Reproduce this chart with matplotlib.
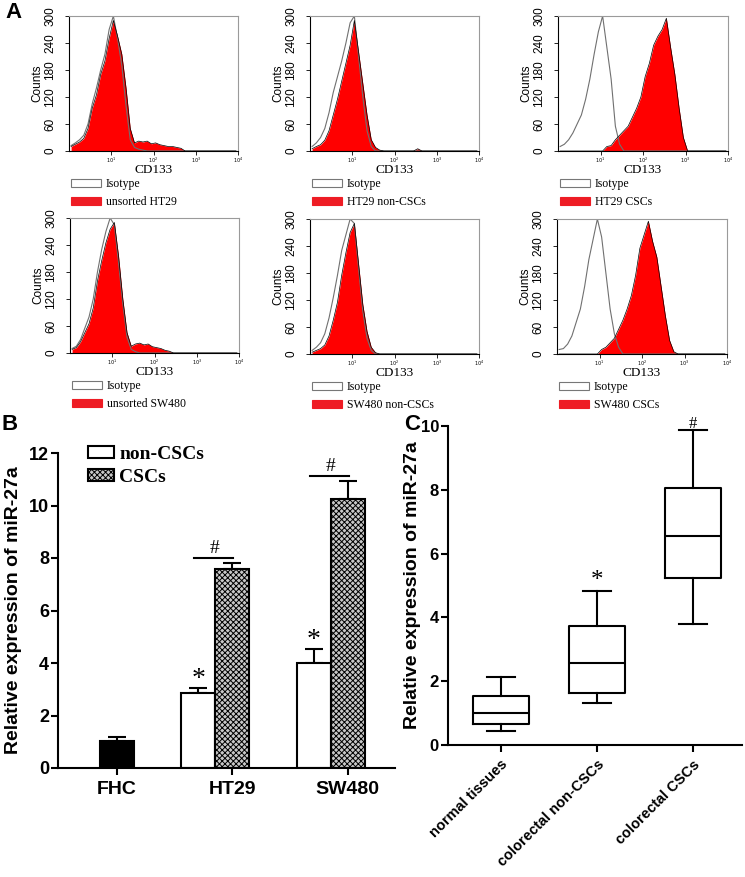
import numpy as np
import matplotlib
matplotlib.use('Agg')
import matplotlib.pyplot as plt
from matplotlib.patches import Rectangle, Patch

plt.rcParams['font.family'] = ['Liberation Sans', 'DejaVu Sans']

W, H = 745, 877

# ---- panel A: flow histograms, counts per 0.1-decade bin of CD133 (10^0 .. 10^4) ----
iso_1 = [12, 18, 25, 35, 60, 105, 140, 180, 215, 270, 300, 250, 190, 100, 25, 8, 4, 2]
red_1 = [10, 15, 20, 28, 50, 95, 125, 170, 200, 250, 290, 255, 215, 140, 50, 18, 22, 20,
         22, 16, 18, 14, 12, 10, 10, 8, 6]
iso_2 = [10, 18, 30, 50, 85, 130, 165, 200, 240, 285, 300, 210, 120, 45, 10]
red_2 = [5, 10, 14, 24, 45, 80, 115, 155, 195, 235, 290, 220, 150, 80, 25, 8, 2,
         0, 0, 0, 0, 0, 0, 0, 0, 5]
iso_3 = [10, 15, 25, 40, 60, 80, 115, 160, 215, 265, 300, 230, 160, 55, 15]
red_3 = [0, 0, 0, 0, 0, 0, 0, 0, 0, 0, 0, 10, 12, 25, 35, 45, 55, 75, 95, 120, 165, 195,
         235, 255, 270, 295, 230, 170, 95, 30]
iso_4 = [10, 15, 30, 55, 80, 120, 180, 230, 270, 300, 285, 200, 110, 35, 8, 3]
red_4 = [8, 12, 25, 45, 65, 100, 160, 205, 245, 275, 290, 215, 120, 45, 15, 20, 22, 18,
         20, 14, 12, 10, 6, 4]
iso_5 = [8, 15, 25, 45, 80, 125, 175, 230, 265, 300, 290, 190, 95, 35, 8]
red_5 = [4, 8, 12, 20, 40, 75, 115, 175, 225, 270, 290, 200, 110, 50, 15, 3]
iso_6 = [10, 12, 22, 40, 70, 100, 150, 210, 255, 300, 260, 180, 100, 45, 15]
red_6 = [0, 0, 0, 0, 0, 0, 0, 0, 0, 0, 10, 15, 25, 35, 55, 75, 100, 130, 175, 235, 265,
         295, 250, 215, 150, 85, 30, 5]

hist_names = ['unsorted HT29', 'HT29 non-CSCs', 'HT29 CSCs',
              'unsorted SW480', 'SW480 non-CSCs', 'SW480 CSCs']
iso_all = [iso_1, iso_2, iso_3, iso_4, iso_5, iso_6]
red_all = [red_1, red_2, red_3, red_4, red_5, red_6]
count_ticks = [0, 60, 120, 180, 240, 300]

# ---- panel B: bars ----
b_cats = ['FHC', 'HT29', 'SW480']
fhc_mean = 1.03
fhc_err = 0.15
non_mean = [2.87, 4.01]
non_err = [0.19, 0.54]
csc_mean = [7.58, 10.25]
csc_err = [0.23, 0.68]
b_ticks = [0, 2, 4, 6, 8, 10, 12]

# ---- panel C: box plots ----
c_cats = ['normal tissues', 'colorectal non-CSCs', 'colorectal CSCs']
c_low = [0.45, 1.31, 3.79]
c_q1 = [0.66, 1.62, 5.25]
c_med = [1.00, 2.56, 6.56]
c_q3 = [1.54, 3.74, 8.06]
c_high = [2.14, 4.84, 9.87]
c_ticks = [0, 2, 4, 6, 8, 10]


fig = plt.figure(figsize=(W / 100, H / 100), dpi=100)


def fax(l, t, r, b):
    return fig.add_axes([l / W, 1 - b / H, (r - l) / W, (b - t) / H])


def ftext(x, y, s, **kw):
    fig.text(x / W, 1 - y / H, s, **kw)


def fbox(x, y, w, h, fc, ec):
    fig.patches.append(Rectangle((x / W, 1 - (y + h / 2) / H), w / W, h / H,
                                 transform=fig.transFigure, facecolor=fc,
                                 edgecolor=ec, linewidth=0.8))


centers = 10 ** (0.05 + np.arange(40) * 0.1)
hist_boxes = [(69, 16, 238, 151), (310, 16, 479, 151), (558, 16, 728, 151),
              (70, 218, 239, 353), (310, 219, 479, 354), (557, 219, 727, 354)]
serif = ['Liberation Serif', 'DejaVu Serif']

for i, (l, t, r, b) in enumerate(hist_boxes):
    ax = fax(l, t, r, b)
    iso = np.zeros(40)
    iso[:len(iso_all[i])] = iso_all[i]
    red = np.zeros(40)
    red[:len(red_all[i])] = red_all[i]
    ax.fill_between(centers, 0, red, color='#ff0000', lw=0, zorder=1)
    ax.plot(centers, iso, color='#707070', lw=0.8, zorder=2)
    ax.plot(centers, red, color='black', lw=0.5, zorder=3)
    ax.set_xscale('log')
    ax.set_xlim(1, 1e4)
    ax.set_ylim(0, 300)
    ax.set_yticks(count_ticks)
    ax.set_yticklabels([str(v) for v in count_ticks], rotation=90, va='center', fontsize=8.5)
    ax.set_xticks([10, 100, 1000, 10000])
    ax.set_xticklabels(['$10^1$', '$10^2$', '$10^3$', '$10^4$'], fontsize=3.5, family=serif)
    ax.tick_params(axis='x', which='major', length=3, width=0.6, pad=0.5)
    ax.tick_params(axis='x', which='minor', length=2, width=0.5)
    ax.tick_params(axis='y', length=3, width=0.6, pad=6)
    ax.set_ylabel('Counts', fontsize=8.5, labelpad=1)
    for s in ['top', 'right']:
        ax.spines[s].set_color('#9a9a9a')
        ax.spines[s].set_linewidth(0.8)
    for s in ['left', 'bottom']:
        ax.spines[s].set_linewidth(0.8)
    xc = (l + r) / 2
    ftext(xc, b + 19, 'CD133', ha='center', va='center', fontsize=9.5, family=serif)
    ftext(l + 37, b + 33, 'Isotype', ha='left', va='center', fontsize=8.5, family=serif)
    ftext(l + 37, b + 51, hist_names[i], ha='left', va='center', fontsize=8.5, family=serif)
    fbox(l + 2, b + 32, 30, 8, 'white', '#777777')
    fbox(l + 2, b + 50, 30, 8, '#ee1c24', '#ee1c24')

# ---- panel B ----
axb = fax(58, 453, 395, 768)
w = 0.294
xb = np.array([1, 2])
plt.rcParams['hatch.linewidth'] = 0.7
axb.bar([0], [fhc_mean], width=w, color='black', edgecolor='black', lw=1.5, zorder=2)
axb.bar(xb - w, non_mean, width=w, color='white', edgecolor='black', lw=1.5, zorder=2)
axb.bar(xb, csc_mean, width=w, color='#c8c8c8', edgecolor='black', lw=1.5,
        hatch='xxxxxx', zorder=2)
axb.errorbar([0], [fhc_mean], yerr=[[0], [fhc_err]], fmt='none', ecolor='black',
             elinewidth=1.5, capsize=6.5, capthick=1.5, zorder=1)
axb.errorbar(xb - w, non_mean, yerr=[[0, 0], non_err], fmt='none', ecolor='black',
             elinewidth=1.5, capsize=6.5, capthick=1.5, zorder=1)
axb.errorbar(xb, csc_mean, yerr=[[0, 0], csc_err], fmt='none', ecolor='black',
             elinewidth=1.5, capsize=6.5, capthick=1.5, zorder=1)
for k in range(2):
    axb.text(xb[k] - w, non_mean[k] + non_err[k] + 0.3, '*', ha='center', va='center',
             fontsize=20, family=serif)
    top = csc_mean[k] + csc_err[k] + 0.2
    axb.plot([xb[k] - 0.33, xb[k] + 0.01], [top, top], color='black', lw=1.5)
    axb.text(xb[k] - 0.15, top + 0.35, '#', ha='center', va='center', fontsize=14,
             family=serif)
axb.set_xlim(-0.51, 2.41)
axb.set_ylim(0, 12)
axb.set_yticks(b_ticks)
axb.set_yticklabels([str(v) for v in b_ticks], fontsize=13, fontweight='bold')
axb.set_xticks([0, 1, 2])
axb.set_xticklabels(b_cats, fontsize=14, fontweight='bold')
axb.tick_params(axis='y', length=5, width=1.5, pad=1.5)
axb.tick_params(axis='x', length=5, width=1.5, pad=4)
axb.spines['top'].set_visible(False)
axb.spines['right'].set_visible(False)
axb.spines['left'].set_linewidth(1.5)
axb.spines['bottom'].set_linewidth(1.5)
axb.set_ylabel('Relative expression of miR-27a', fontsize=14, fontweight='bold', labelpad=5)
handles = [Patch(facecolor='white', edgecolor='black', lw=1.5),
           Patch(facecolor='#c8c8c8', edgecolor='black', lw=1.5, hatch='xxxxxx')]
axb.legend(handles, ['non-CSCs', 'CSCs'], loc='upper left', bbox_to_anchor=(0.089, 1.022),
           frameon=False, prop={'family': serif, 'weight': 'bold', 'size': 14},
           handlelength=1.35, handleheight=0.6, handletextpad=0.25, labelspacing=0.3,
           borderaxespad=0, borderpad=0)

# ---- panel C ----
axc = fax(448, 426, 742, 745)
stats = []
for k in range(3):
    stats.append({'whislo': c_low[k], 'q1': c_q1[k], 'med': c_med[k], 'q3': c_q3[k],
                  'whishi': c_high[k], 'fliers': [], 'label': c_cats[k]})
lp = dict(color='black', lw=1.5)
axc.bxp(stats, positions=[1, 2, 3], widths=0.585, capwidths=0.29, showfliers=False,
        boxprops=lp, whiskerprops=lp, capprops=lp, medianprops=lp)
axc.text(2, c_high[1] + 0.3, '*', ha='center', va='center', fontsize=18, family=serif)
axc.text(3, c_high[2] + 0.2, '#', ha='center', va='center', fontsize=12, family=serif,
         clip_on=False)
axc.set_xlim(0.451, 3.51)
axc.set_ylim(0, 10)
axc.set_yticks(c_ticks)
axc.set_yticklabels([str(v) for v in c_ticks], fontsize=12, fontweight='bold')
axc.set_xticks([1, 2, 3])
axc.set_xticklabels(c_cats, rotation=45, ha='right', rotation_mode='anchor',
                    fontsize=10.5, fontweight='bold')
axc.tick_params(axis='y', length=5, width=1.5, pad=1.5)
axc.tick_params(axis='x', length=5, width=1.5, pad=4)
axc.spines['top'].set_visible(False)
axc.spines['right'].set_visible(False)
axc.spines['left'].set_linewidth(1.5)
axc.spines['bottom'].set_linewidth(1.5)
axc.set_ylabel('Relative expression of miR-27a', fontsize=14, fontweight='bold', labelpad=0)

ftext(14, 13, 'A', ha='center', va='center', fontsize=16, fontweight='bold')
ftext(10, 425, 'B', ha='center', va='center', fontsize=16, fontweight='bold')
ftext(412, 425, 'C', ha='center', va='center', fontsize=16, fontweight='bold')

fig.savefig('out.png', dpi=100)
